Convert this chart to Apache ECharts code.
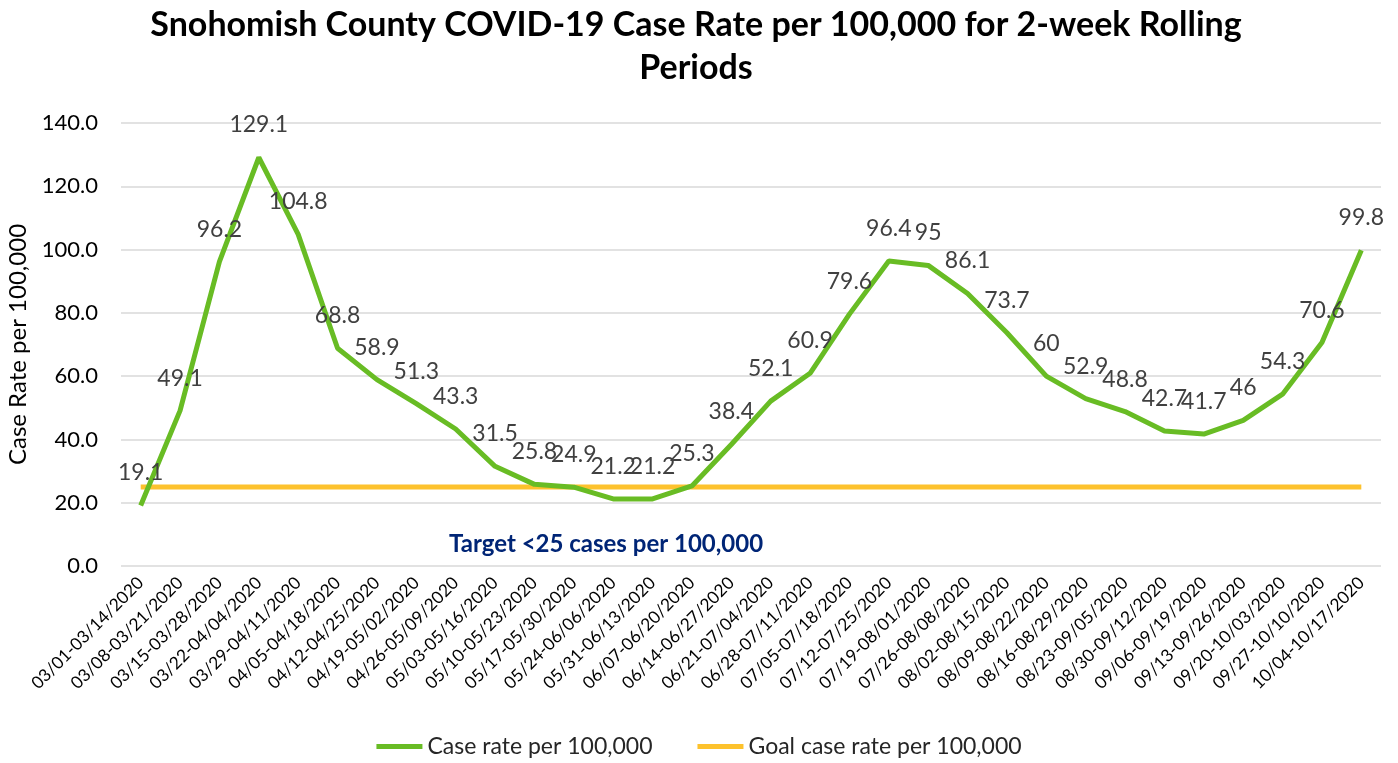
<!DOCTYPE html>
<html><head><meta charset="utf-8">
<script src="https://cdn.jsdelivr.net/npm/echarts@6/dist/echarts.min.js"></script>
<style>html,body{margin:0;padding:0;background:#fff}#c{width:1398px;height:763px}</style>
</head><body><div id="c"></div>
<script>
const categories = ["03/01-03/14/2020","03/08-03/21/2020","03/15-03/28/2020","03/22-04/04/2020","03/29-04/11/2020","04/05-04/18/2020","04/12-04/25/2020","04/19-05/02/2020","04/26-05/09/2020","05/03-05/16/2020","05/10-05/23/2020","05/17-05/30/2020","05/24-06/06/2020","05/31-06/13/2020","06/07-06/20/2020","06/14-06/27/2020","06/21-07/04/2020","06/28-07/11/2020","07/05-07/18/2020","07/12-07/25/2020","07/19-08/01/2020","07/26-08/08/2020","08/02-08/15/2020","08/09-08/22/2020","08/16-08/29/2020","08/23-09/05/2020","08/30-09/12/2020","09/06-09/19/2020","09/13-09/26/2020","09/20-10/03/2020","09/27-10/10/2020","10/04-10/17/2020"];
const caseRate = [19.1,49.1,96.2,129.1,104.8,68.8,58.9,51.3,43.3,31.5,25.8,24.9,21.2,21.2,25.3,38.4,52.1,60.9,79.6,96.4,95,86.1,73.7,60,52.9,48.8,42.7,41.7,46,54.3,70.6,99.8];
const goalRate = categories.map(() => 25);
const titleText = "Snohomish County COVID-19 Case Rate per 100,000 for 2-week Rolling\nPeriods";
const targetText = "Target <25 cases per 100,000";

const FONT = "Lato";
const chart = echarts.init(document.getElementById('c'));
chart.setOption({
  backgroundColor: '#fff',
  animation: false,
  title: {
    text: titleText, left: 691, top: -1, textAlign: 'center',
    textStyle: { fontFamily: FONT, fontWeight: 'bold', fontSize: 34, color: '#000', lineHeight: 43 }
  },
  grid: { left: 121, right: 17, top: 123, bottom: 197, containLabel: false, outerBoundsMode: 'none' },
  legend: {
    bottom: 0, left: 'center', itemWidth: 46, itemHeight: 5, itemGap: 45,
    icon: 'rect',
    textStyle: { fontFamily: FONT, fontSize: 23, color: '#262626' },
    data: ['Case rate per 100,000', 'Goal case rate per 100,000']
  },
  xAxis: {
    type: 'category', data: categories, boundaryGap: true,
    axisLine: { show: false }, axisTick: { show: false },
    axisLabel: { rotate: 45, interval: 0, fontFamily: FONT, fontSize: 17.3, color: '#000', margin: 14 }
  },
  yAxis: {
    type: 'value', min: 0, max: 140, interval: 20,
    name: 'Case Rate per 100,000', nameLocation: 'middle', nameGap: 91, nameRotate: 90,
    nameTextStyle: { fontFamily: FONT, fontSize: 24, color: '#000' },
    axisLabel: { formatter: v => v.toFixed(1), fontFamily: FONT, fontSize: 22, color: '#000', margin: 23 },
    splitLine: { lineStyle: { color: '#d9d9d9', width: 1.5 } },
    axisLine: { show: false }, axisTick: { show: false }
  },
  graphic: [{
    type: 'text', left: 449, top: 532,
    style: { text: targetText, fontFamily: FONT, fontWeight: 'bold', fontSize: 24, fill: '#002576' }
  }],
  series: [
    {
      name: 'Goal case rate per 100,000', type: 'line', data: goalRate,
      symbol: 'none', lineStyle: { color: '#FDC22D', width: 5 }, itemStyle: { color: '#FDC22D' }, z: 2
    },
    {
      name: 'Case rate per 100,000', type: 'line', data: caseRate,
      symbol: 'circle', symbolSize: 0, showSymbol: true,
      lineStyle: { color: '#68BC24', width: 5 }, itemStyle: { color: '#68BC24' }, z: 3,
      label: { show: true, position: 'top', distance: 21, fontFamily: FONT, fontSize: 23, color: '#404040' },
      labelLayout: { hideOverlap: false }
    }
  ]
});
</script></body></html>
